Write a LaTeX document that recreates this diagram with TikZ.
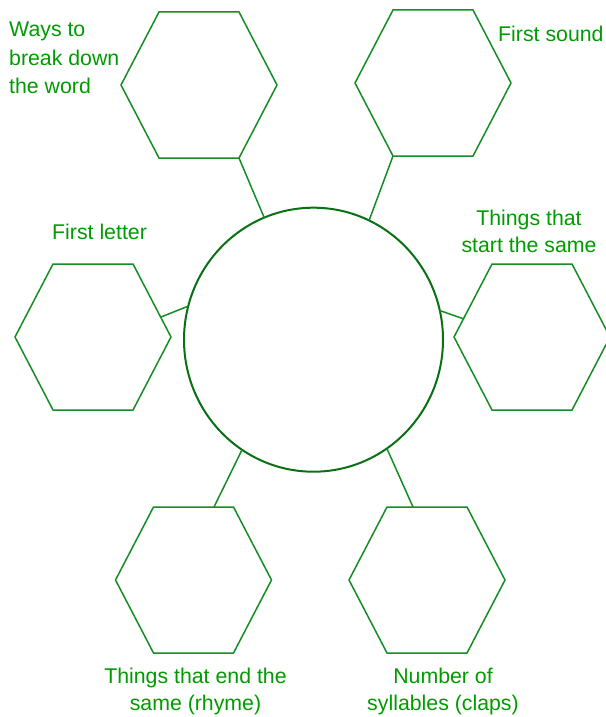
\documentclass[tikz,border=0pt]{standalone}
\usepackage{fontspec}
\setmainfont{Liberation Sans}
\usetikzlibrary{shapes.geometric}
\definecolor{hexgreen}{RGB}{22,140,38}
\definecolor{circgreen}{RGB}{10,112,20}
\definecolor{txtgreen}{RGB}{0,155,0}
\tikzset{
  hexline/.style={draw=hexgreen, line width=1.5pt, line join=miter},
  link/.style={draw=hexgreen, line width=1.5pt},
  lbl/.style={text=txtgreen, inner sep=0pt, font=\fontsize{21.3}{28.5}\selectfont},
  lblc/.style={lbl, align=center, font=\fontsize{21.3}{27.3}\selectfont},
}
\newcommand\hexat[1]{%
  \draw[hexline, shift={(#1)}] (-40,-73) -- (40,-73) -- (78,0) -- (40,73) -- (-40,73) -- (-78,0) -- cycle;}
\begin{document}
\begin{tikzpicture}[x=1pt,y=-1pt]
\useasboundingbox (0,0) rectangle (605,717);
% hexagon centres
\coordinate (h1) at (199,85);
\coordinate (h2) at (433,83);
\coordinate (h3) at (93,337);
\coordinate (h4) at (532,337);
\coordinate (h5) at (193.5,580);
\coordinate (h6) at (427,580);
\hexat{h1}\hexat{h2}\hexat{h3}\hexat{h4}\hexat{h5}\hexat{h6}
% centre circle
\node[ellipse, draw=circgreen, line width=2pt, minimum width=259pt, minimum height=264pt, inner sep=0pt, outer sep=0pt] (c) at (313.5,339.7) {};
% connector ends on the hexagons
\coordinate (e1) at (239,158);
\coordinate (e2) at (393,156);
\coordinate (e3) at (161,317);
\coordinate (e4) at (464,319);
\coordinate (e5) at (214,507);
\coordinate (e6) at (413,507);
\draw[link] (c.112.9) -- (e1);
\draw[link] (c.65.7) -- (e2);
\draw[link] (c.165.9) -- (e3);
\draw[link] (c.13.3) -- (e4);
\draw[link] (c.-123.3) -- (e5);
\draw[link] (c.-56.1) -- (e6);
% labels
\node[lbl, align=left, anchor=north west] (t1) at (9,22) {Ways to\\break down\\the word};
\node[lbl, anchor=north west] (t2) at (498,25.5) {First sound};
\node[lbl, anchor=north west] (t3) at (52,223.5) {First letter};
\node[lblc, anchor=north] (t4) at (529,209.5) {Things that\\start the same};
\node[lblc, anchor=north] (t5) at (195.5,667.5) {Things that end the\\same (rhyme)};
\node[lblc, anchor=north] (t6) at (443,667.5) {Number of\\syllables (claps)};
\end{tikzpicture}
\end{document}
